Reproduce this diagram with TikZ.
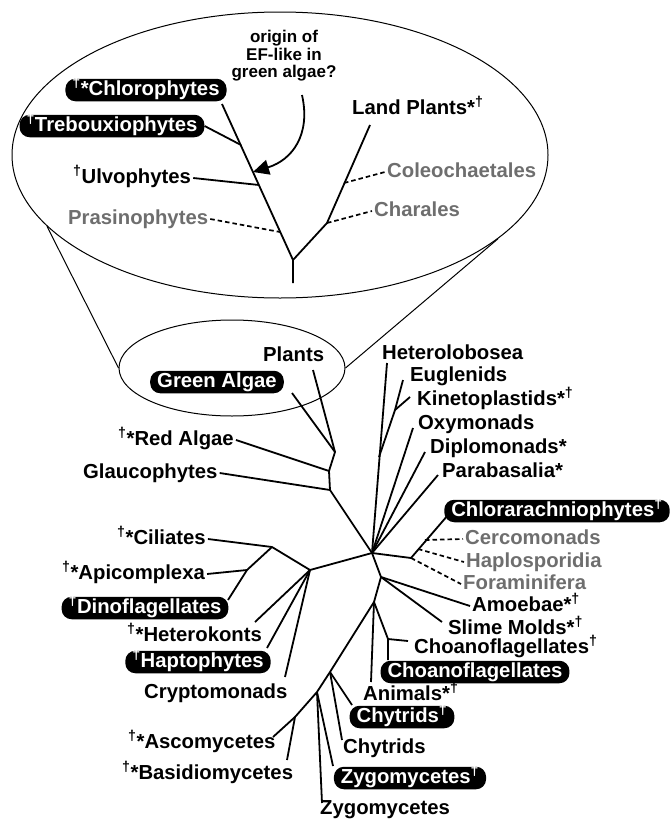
\documentclass[tikz,border=0pt]{standalone}
\usepackage{fontspec}
\setmainfont{Liberation Sans}
\usepackage{tikz}
\usetikzlibrary{positioning,arrows.meta,shapes.geometric,calc}
\definecolor{dimgrey}{HTML}{6E6E6E}
\newcommand{\dagr}{\textsuperscript{†}}

\begin{document}
\begin{tikzpicture}[x=1pt,y=-1pt,
    every node/.style={font=\fontsize{20.3}{22}\selectfont\bfseries},
    lab/.style={inner sep=2pt,text height=14.5pt,text depth=4pt},
    tag/.style={lab,fill=black,text=white,rounded corners=10pt,inner xsep=7pt},
    faint/.style={lab,text=dimgrey},
    br/.style={line width=1.8pt},
    dsh/.style={line width=1.7pt,dash pattern=on 4.5pt off 3pt},
    ringline/.style={line width=1pt}]
  \useasboundingbox (0,0) rectangle (670,819);

  % zoomed green algae
  \node[draw,ringline,ellipse,minimum width=536pt,minimum height=286pt,inner sep=0pt] (zoomring) at (280,155) {};
  \node[draw,ringline,ellipse,minimum width=226pt,minimum height=96pt,inner sep=0pt] (greenring) at (232,368) {};
  \draw[ringline] (zoomring.197) -- (greenring.180);
  \draw[ringline] (zoomring.339) -- (greenring.0);

  \node[tag] (chloro) at (146,90) {\dagr*Chlorophytes};
  \node[tag] (treb) at (112,126) {\dagr Trebouxiophytes};
  \node[lab,anchor=west] (ulvo) at (71,178) {\dagr Ulvophytes};
  \node[faint,anchor=west] (prasino) at (66,219) {Prasinophytes};
  \node[lab,anchor=west] (landpl) at (350,109) {Land Plants*\dagr};
  \node[faint,anchor=west] (coleo) at (385,172) {Coleochaetales};
  \node[faint,anchor=west] (charales) at (372,211) {Charales};
  \node[align=center,font=\fontsize{17}{17.5}\selectfont\bfseries] (query) at (284,56) {origin of\\EF-like in\\green algae?};

  \coordinate (g0) at (293,283); \coordinate (g1) at (293,260); \coordinate (cT) at (222,104);
  \coordinate (gT) at (241,145); \coordinate (gU) at (259,185); \coordinate (gP) at (280,232);
  \coordinate (s1) at (327,223); \coordinate (sC) at (344,183); \coordinate (sT) at (370,125);
  \draw[br] (g0) -- (g1) -- (cT);
  \draw[br] (treb.east) -- (gT);
  \draw[br] (ulvo.east) -- (gU);
  \draw[dsh] (prasino.east) -- (gP);
  \draw[br] (g1) -- (s1) -- (sT);
  \draw[dsh] (sC) -- (coleo.west);
  \draw[dsh] (s1) -- (charales.west);
  \coordinate (qA) at (302,95); \coordinate (qB) at (253,172);
  \draw[br,-{Triangle[length=16pt,width=15pt]}] (qA) .. controls (311,135) and (292,160) .. (qB);

  % plastid lineage
  \node[lab,anchor=west] (plants) at (261,356) {Plants};
  \node[tag] (green) at (217,382) {Green Algae};
  \node[lab,anchor=west] (red) at (116,440) {\dagr*Red Algae};
  \node[lab,anchor=west] (glauc) at (81,473) {Glaucophytes};
  \coordinate (pA) at (335,452); \coordinate (pB) at (329,471); \coordinate (pC) at (330,490);
  \coordinate (hub) at (372,553); \coordinate (plT) at (313,370); \coordinate (gaT) at (292,393);
  \draw[br] (plT) -- (pA);
  \draw[br] (gaT) -- (pA) -- (pB) -- (pC) -- (hub);
  \draw[br] (red.east) -- (pB);
  \draw[br] (glauc.east) -- (pC);

  % excavates
  \node[lab,anchor=west] (hetlo) at (380,354) {Heterolobosea};
  \node[lab,anchor=west] (eugl) at (408,376) {Euglenids};
  \node[lab,anchor=west] (kineto) at (415,400) {Kinetoplastids*\dagr};
  \node[lab,anchor=west] (oxy) at (416,424) {Oxymonads};
  \node[lab,anchor=west] (diplo) at (428,448) {Diplomonads*};
  \node[lab,anchor=west] (parab) at (440,472) {Parabasalia*};
  \coordinate (hlT) at (387,363); \coordinate (euT) at (403,380); \coordinate (kiT) at (410,397);
  \coordinate (exE) at (395,410); \coordinate (exJ) at (379,457);
  \coordinate (oxT) at (413,428); \coordinate (diT) at (425,452); \coordinate (paT) at (438,475);
  \draw[br] (hlT) -- (hub);
  \draw[br] (euT) -- (exE) -- (exJ);
  \draw[br] (kiT) -- (exE);
  \draw[br] (oxT) -- (hub);
  \draw[br] (diT) -- (hub);
  \draw[br] (paT) -- (hub);

  % rhizaria
  \node[tag] (chlor) at (557,511) {Chlorarachniophytes\dagr};
  \node[faint,anchor=west] (cerco) at (463,539) {Cercomonads};
  \node[faint,anchor=west] (haplo) at (464,562) {Haplosporidia};
  \node[faint,anchor=west] (foram) at (461,584) {Foraminifera};
  \coordinate (rz) at (411,558); \coordinate (rzH) at (418,549); \coordinate (rzC) at (425,540);
  \coordinate (chT) at (448,515);
  \draw[br] (hub) -- (rz) -- (chT);
  \draw[dsh] (rzC) -- (cerco.west);
  \draw[dsh] (rzH) -- (haplo.west);
  \draw[dsh] (rz) -- (foram.west);

  % unikonts
  \node[lab,anchor=west] (amoe) at (470,606) {Amoebae*\dagr};
  \node[lab,anchor=west] (slime) at (446,629) {Slime Molds*\dagr};
  \node[lab,anchor=west] (choD) at (412,648) {Choanoflagellates\dagr};
  \node[tag] (choB) at (475,672) {Choanoflagellates};
  \node[lab,anchor=west] (animals) at (361,695) {Animals*\dagr};
  \node[tag] (chyB) at (402,717) {Chytrids\dagr};
  \node[lab,anchor=west] (chy) at (341,748) {Chytrids};
  \node[tag] (zygB) at (410,778) {Zygomycetes\dagr};
  \node[lab,anchor=west] (zyg) at (318,809) {Zygomycetes};
  \node[lab,anchor=west] (asco) at (126,743) {\dagr*Ascomycetes};
  \node[lab,anchor=west] (basid) at (120,774) {\dagr*Basidiomycetes};
  \coordinate (uO) at (381,577); \coordinate (uP) at (374,602); \coordinate (uC) at (388,639);
  \coordinate (slT) at (442,622); \coordinate (cdT) at (408,641); \coordinate (cbT) at (388,660);
  \coordinate (anT) at (371,682);
  \coordinate (f1) at (330,672); \coordinate (f2) at (317,692); \coordinate (f3) at (295,717);
  \coordinate (asT) at (273,737); \coordinate (baT) at (287,760);
  \coordinate (cyBT) at (352,705); \coordinate (cyT) at (342,740);
  \coordinate (zyBT) at (333,766); \coordinate (zyT) at (322,803);
  \draw[br] (hub) -- (uO) -- (uP) -- (uC) -- (cbT);
  \draw[br] (uO) -- (amoe.west);
  \draw[br] (uO) -- (slT);
  \draw[br] (uC) -- (cdT);
  \draw[br] (uP) -- (anT);
  \draw[br] (uP) -- (f1) -- (f2) -- (f3) -- (asT);
  \draw[br] (f1) -- (cyBT); \draw[br] (f1) -- (cyT);
  \draw[br] (f2) -- (zyBT); \draw[br] (f2) -- (zyT);
  \draw[br] (f3) -- (baT);

  % chromalveolates
  \node[lab,anchor=west] (cil) at (115,539) {\dagr*Ciliates};
  \node[lab,anchor=west] (api) at (60,574) {\dagr*Apicomplexa};
  \node[tag] (dino) at (145,608) {\dagr Dinoflagellates};
  \node[lab,anchor=west] (hetko) at (125,636) {\dagr*Heterokonts};
  \node[tag] (hapto) at (198,662) {\dagr Haptophytes};
  \node[lab,anchor=west] (crypto) at (142,693) {Cryptomonads};
  \coordinate (cA) at (310,570); \coordinate (cAl) at (272,547); \coordinate (cD) at (247,570);
  \coordinate (dnT) at (228,600); \coordinate (hkT) at (255,622);
  \coordinate (hpT) at (267,648); \coordinate (crT) at (285,677);
  \draw[br] (hub) -- (cA) -- (cAl) -- (cil.east);
  \draw[br] (cAl) -- (cD) -- (dnT);
  \draw[br] (api.east) -- (cD);
  \draw[br] (cA) -- (hkT); \draw[br] (cA) -- (hpT); \draw[br] (cA) -- (crT);
\end{tikzpicture}
\end{document}
